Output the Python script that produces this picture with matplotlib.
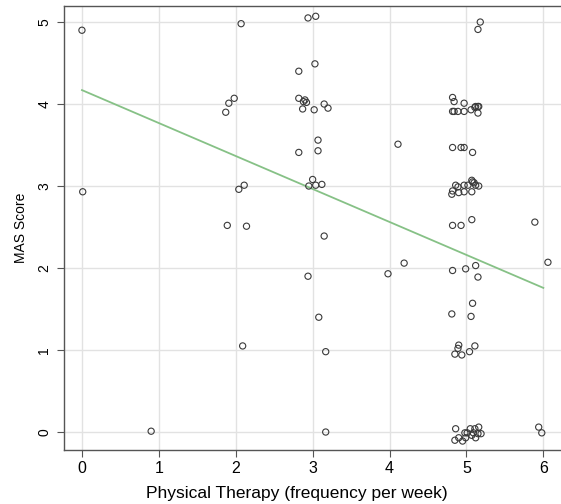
import numpy as np
import matplotlib.pyplot as plt

plt.rcParams["font.family"] = ["Liberation Sans", "DejaVu Sans"]

# frequency of physical therapy per week (jittered as in the original)
pt_freq = [
    0.00, 0.01, 0.90,
    2.07, 1.91, 1.98, 1.87, 2.04, 2.11, 1.89, 2.14, 2.09,
    2.94, 3.04, 3.03, 2.82, 2.82, 2.88, 2.92, 2.90, 2.87, 3.02, 3.15, 3.20,
    3.07, 2.82, 3.07, 3.00, 2.95, 3.04, 3.12, 3.15, 2.94, 3.08, 3.17, 3.17,
    4.11, 3.98, 4.19,
    5.18, 5.15, 4.82, 4.84, 4.97,
    4.82, 4.84, 4.89, 4.97, 5.06, 5.11, 5.12, 5.15, 5.16, 5.15,
    4.82, 4.93, 4.97, 5.08,
    4.81, 4.82, 4.86, 4.89, 4.90, 4.97, 4.97, 5.02, 5.07, 5.08, 5.10, 5.12,
    5.16, 5.07,
    4.82, 4.93, 5.07, 5.89,
    6.06, 4.82, 4.99, 5.12, 5.15, 5.08, 4.81, 5.06,
    4.90, 4.89, 4.85, 4.94, 5.04, 5.11,
    4.86, 4.85, 4.90, 4.95, 4.99, 4.98, 5.01, 5.05, 5.07, 5.11, 5.12, 5.15,
    5.16, 5.19, 5.09,
    5.94, 5.98,
]
mas_score = [
    4.90, 2.93, 0.01,
    4.98, 4.01, 4.07, 3.90, 2.96, 3.01, 2.52, 2.51, 1.05,
    5.05, 5.07, 4.49, 4.40, 4.07, 4.03, 4.02, 4.05, 3.94, 3.93, 4.00, 3.95,
    3.56, 3.41, 3.43, 3.08, 3.00, 3.01, 3.02, 2.39, 1.90, 1.40, 0.98, 0.00,
    3.51, 1.93, 2.06,
    5.00, 4.91, 4.08, 4.03, 4.01,
    3.91, 3.91, 3.91, 3.91, 3.93, 3.96, 3.97, 3.97, 3.97, 3.89,
    3.47, 3.47, 3.47, 3.41,
    2.90, 2.94, 3.01, 2.99, 2.92, 3.01, 2.93, 3.01, 3.07, 3.05, 3.04, 3.01,
    3.00, 2.93,
    2.52, 2.52, 2.59, 2.56,
    2.07, 1.97, 1.99, 2.03, 1.89, 1.57, 1.44, 1.41,
    1.06, 1.02, 0.95, 0.94, 0.98, 1.05,
    0.04, -0.10, -0.07, -0.11, -0.07, -0.01, -0.01, 0.04, -0.04, 0.04, -0.07,
    -0.02, 0.06, -0.02, -0.01,
    0.06, -0.01,
]

# fitted line
fit_x = [0, 6]
fit_intercept = 4.17
fit_slope = -0.402

x_ticks = [0, 1, 2, 3, 4, 5, 6]
y_ticks = [0, 1, 2, 3, 4, 5]

fig = plt.figure(figsize=(5.61, 5.04), dpi=100)
ax = fig.add_axes([0.114, 0.107, 0.886, 0.881])

ax.grid(True, color="#e2e2e2", linewidth=1.0)
ax.set_axisbelow(True)

ax.scatter(pt_freq, mas_score, s=20, facecolors="none", edgecolors="#3a3a3a",
           linewidths=0.8, zorder=3)

fx = np.array(fit_x)
ax.plot(fx, fit_intercept + fit_slope * fx, color="#86c186", linewidth=1.3, zorder=2)

ax.set_xlim(-0.234, 6.23)
ax.set_ylim(-0.22, 5.195)
ax.set_xticks(x_ticks)
ax.set_yticks(y_ticks)
ax.tick_params(axis="x", length=5, color="#555555", labelsize=11.5, pad=3)
ax.tick_params(axis="y", length=5, color="#555555", labelsize=10, pad=4)
for lab in ax.get_yticklabels():
    lab.set_rotation(90)
    lab.set_va("center")

for side in ["left", "bottom", "top"]:
    ax.spines[side].set_color("#555555")
    ax.spines[side].set_linewidth(1.0)
ax.spines["right"].set_visible(False)

ax.set_xlabel("Physical Therapy (frequency per week)", fontsize=12.5)
ax.xaxis.set_label_coords(0.469, -0.082)
ax.set_ylabel("MAS Score", fontsize=10, labelpad=7)

fig.savefig("out.png", dpi=100)
